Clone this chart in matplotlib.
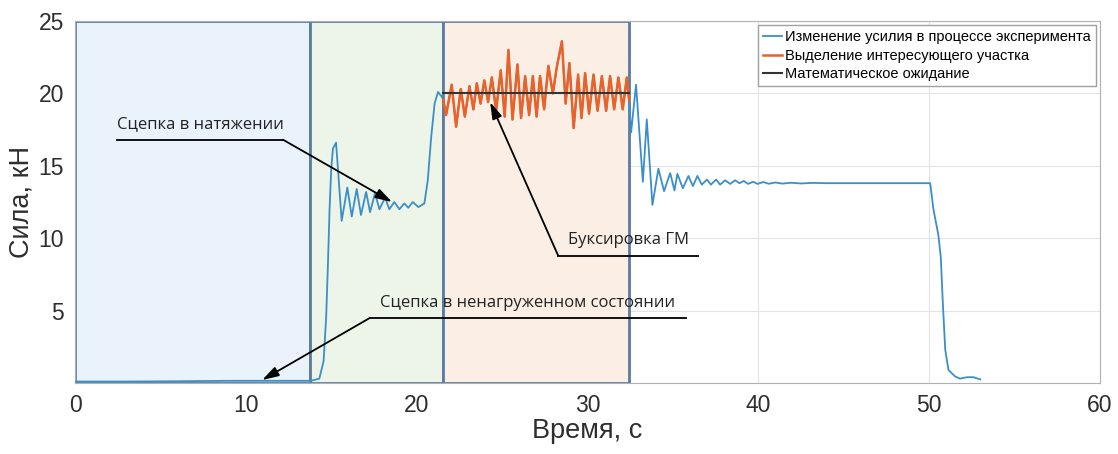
import matplotlib
matplotlib.use("Agg")
import matplotlib.pyplot as plt
from matplotlib.patches import Rectangle

# --- data ---
t_pre = [0.0, 3.0, 6.0, 9.0, 12.0, 13.8, 14.3, 14.55, 14.7, 14.8, 14.9, 15.0, 15.1, 15.28,
         15.61, 15.94, 16.2, 16.49, 16.74, 17.04, 17.27, 17.56, 17.82, 18.15, 18.4,
         18.69, 18.99, 19.28, 19.51, 19.77, 20.1, 20.45, 20.65, 20.85, 21.05, 21.25, 21.45]
f_pre = [0.1, 0.1, 0.12, 0.15, 0.15, 0.15, 0.3, 1.5, 4.5, 8.0, 12.0, 14.8, 16.2, 16.6,
         11.2, 13.5, 11.5, 13.4, 11.6, 13.2, 11.8, 13.1, 12.0, 12.8, 12.0,
         12.5, 12.0, 12.4, 12.1, 12.5, 12.15, 12.4, 14.0, 17.0, 19.3, 20.1, 19.8]

t_mid = [21.55, 21.72, 22.05, 22.31, 22.58, 22.82, 23.09, 23.32, 23.52, 23.74, 23.96,
         24.18, 24.40, 24.65, 24.92, 25.15, 25.37, 25.61, 25.90, 26.11, 26.35, 26.58,
         26.80, 27.02, 27.22, 27.46, 27.71, 27.97, 28.20, 28.50, 28.72, 28.94, 29.19,
         29.45, 29.65, 29.86, 30.09, 30.35, 30.59, 30.84, 31.09, 31.32, 31.56, 31.81,
         32.06, 32.30, 32.44]
f_mid = [19.6, 18.5, 20.6, 17.7, 20.3, 18.4, 20.5, 18.9, 20.7, 19.3, 20.9,
         19.4, 21.1, 18.8, 21.6, 18.4, 23.0, 18.2, 22.0, 18.3, 21.2, 18.5,
         21.2, 18.4, 21.2, 18.9, 21.9, 20.0, 21.8, 23.6, 19.3, 22.1, 17.6,
         21.3, 18.3, 21.4, 18.6, 21.3, 18.8, 21.2, 18.8, 21.2, 18.9, 21.1,
         18.9, 21.1, 19.5]

t_post = [32.55, 32.84, 33.24, 33.47, 33.80, 34.15, 34.48, 34.84, 35.09, 35.26, 35.58,
          35.91, 36.17, 36.43, 36.69, 36.99, 37.22, 37.53, 37.76, 38.06, 38.35, 38.64,
          38.89, 39.15, 39.4, 39.7, 39.95, 40.3, 40.6, 41.0, 41.4, 41.9, 42.5, 43.2,
          44.0, 50.06, 50.25, 50.54, 50.68, 50.80, 50.94, 51.13, 51.52, 51.81, 52.21,
          52.59, 52.99]
f_post = [17.3, 20.6, 13.9, 18.2, 12.3, 14.8, 13.25, 14.5, 13.3, 14.45, 13.45,
          14.3, 13.6, 14.3, 13.7, 14.05, 13.7, 14.05, 13.7, 14.0, 13.75, 14.0,
          13.8, 13.95, 13.75, 13.9, 13.75, 13.88, 13.76, 13.85, 13.77, 13.83, 13.78, 13.82,
          13.8, 13.8, 12.0, 10.2, 8.7, 5.5, 2.3, 0.9, 0.45, 0.3, 0.4,
          0.4, 0.25]

time = t_pre + t_mid + t_post
force = f_pre + f_mid + f_post

mean_force = 20.0
zones = [(0.0, 13.76, "#eaf2fb"), (13.76, 21.55, "#edf5e8"), (21.55, 32.43, "#fbeee4")]

legend_labels = ["Изменение усилия в процессе эксперимента",
                 "Выделение интересующего участка",
                 "Математическое ожидание"]

fig = plt.figure(figsize=(11.18, 4.54), dpi=100)
ax = fig.add_axes([0.0671, 0.1564, 0.9168, 0.7973])

for x0, x1, col in zones:
    ax.add_patch(Rectangle((x0, 0), x1 - x0, 25, facecolor=col, edgecolor="#5a7ca3",
                           linewidth=2, zorder=1))

ax.plot(time, force, color="#3b8fc8", lw=1.3, zorder=3, solid_joinstyle="round",
        label=legend_labels[0])
ax.plot(t_mid, f_mid, color="#e8622a", lw=1.8, zorder=4, solid_joinstyle="round",
        label=legend_labels[1])
ax.plot([t_mid[0], t_mid[-1]], [mean_force, mean_force], color="#333333", lw=1.5,
        zorder=5, label=legend_labels[2])

ax.set_xlim(0, 60)
ax.set_ylim(0, 25)
ax.set_xticks(range(0, 61, 10))
ax.set_yticks([5, 10, 15, 20, 25])
ax.grid(True, color="#e3e3e3", lw=0.8, zorder=0)
ax.set_axisbelow(True)
for s in ax.spines.values():
    s.set_color("#b0b0b0")
ax.tick_params(labelsize=16.5, colors="#2e2e2e", length=0, pad=8)
for lab in ax.get_xticklabels() + ax.get_yticklabels():
    lab.set_family("Liberation Sans")
ax.set_xlabel("Время, с", fontsize=19.5, family="Liberation Sans", color="#2e2e2e", labelpad=1)
ax.set_ylabel("Сила, кН", fontsize=19.5, family="Liberation Sans", color="#2e2e2e", labelpad=3)

leg = ax.legend(loc="upper right", prop={"family": "Liberation Sans", "size": 10.5},
                handlelength=1.3, handletextpad=0.2, borderpad=0.35, labelspacing=0.3,
                fancybox=False, framealpha=1, edgecolor="#a0a0a0", borderaxespad=0.3)
leg.set_zorder(10)

# callouts: text on an underline, arrow from the underline's end
notes = [("Сцепка в натяжении", 2.46, 16.8, 12.18, 18.56, 12.5),
         ("Буксировка ГМ", 36.48, 8.8, 28.28, 24.3, 19.4),
         ("Сцепка в ненагруженном состоянии", 35.77, 4.5, 17.27, 10.95, 0.2)]
for text, xa, ya, xb, xt, yt in notes:
    ax.plot([xa, xb], [ya, ya], color="black", lw=1.3, zorder=6)
    ax.annotate("", xy=(xt, yt), xytext=(xb, ya),
                arrowprops=dict(arrowstyle="-|>,head_length=1.0,head_width=0.3",
                                color="black", lw=1.3, shrinkA=0, shrinkB=0), zorder=6)
    ax.text((xa + xb) / 2, ya + 0.5, text, ha="center", va="bottom", fontsize=12,
            family="Open Sans", color="#222222", zorder=7)

fig.savefig("out.png", dpi=100)
